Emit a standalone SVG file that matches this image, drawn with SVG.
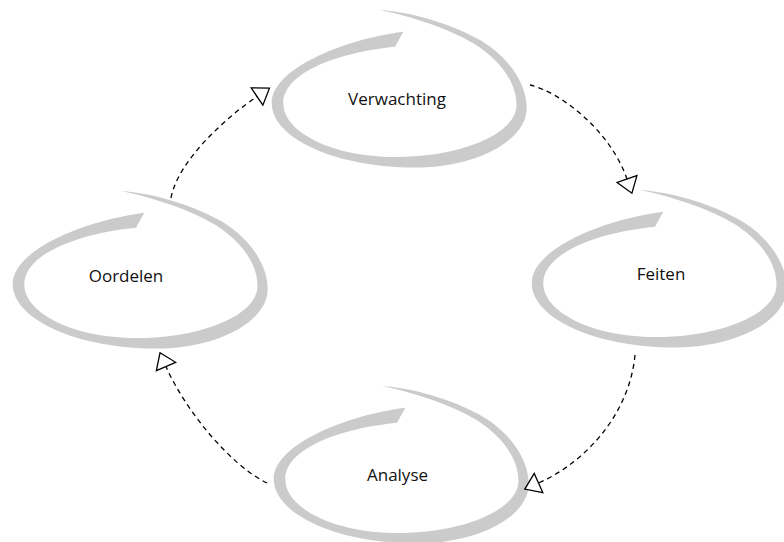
<svg xmlns="http://www.w3.org/2000/svg" xmlns:xlink="http://www.w3.org/1999/xlink" width="784" height="542" viewBox="0 0 784 542">
<style>
.swirl{fill:#cbcbcb;stroke:none}
.lbl{font-family:"Open Sans","Liberation Sans",sans-serif;font-size:17px;fill:#111;text-anchor:middle}
.conn{fill:none;stroke:#000;stroke-width:1.3;stroke-dasharray:5 4;marker-end:url(#tri)}
</style>
<defs>
<marker id="tri" viewBox="-2 -13 19 26" refX="0" refY="0" markerWidth="19" markerHeight="26" markerUnits="userSpaceOnUse" orient="auto" overflow="visible">
<path d="M0,-10.5 L15,0 L0,10.5 Z" fill="#fff" stroke="#000" stroke-width="1.3" stroke-dasharray="none"/>
</marker>
<path id="swirl" class="swirl" d="M380,10 C412,12 450,24 476.7,38.3 C503,52 526.7,80 526.7,108 C526.7,140.7 476.4,167.5 415,167.5 C336.2,167.5 271.7,138.5 271.7,103 C271.7,70 340,40 403.3,31.7 L395,46.7 C340,52 283.3,72 283.3,103.3 C283.3,132.8 333.6,157 395,157 C461.8,157 516.5,133.6 516.5,105 C516.5,80 497,58 473.3,43.3 C450,29 410,16 380,10 Z"/>
</defs>
<rect width="784" height="542" fill="#fff"/>
<g id="verwachting">
<use xlink:href="#swirl" href="#swirl"/>
<text class="lbl" x="397" y="105">Verwachting</text>
</g>
<g id="oordelen">
<use xlink:href="#swirl" href="#swirl" transform="translate(-259,181)"/>
<text class="lbl" x="126" y="282">Oordelen</text>
</g>
<g id="feiten">
<use xlink:href="#swirl" href="#swirl" transform="translate(260,180)"/>
<text class="lbl" x="661" y="280">Feiten</text>
</g>
<g id="analyse">
<use xlink:href="#swirl" href="#swirl" transform="translate(2,376)"/>
<text class="lbl" x="397.5" y="481">Analyse</text>
</g>
<g id="connectors">
<path class="conn" d="M171,198 C178,160 228,116 257,96.5"/>
<path class="conn" d="M530,85 C560,92 610,130 627,179"/>
<path class="conn" d="M635,355 C630,410 590,460 538.5,483"/>
<path class="conn" d="M267,483 C230,465 185,410 166,366.5"/>
</g>
</svg>
